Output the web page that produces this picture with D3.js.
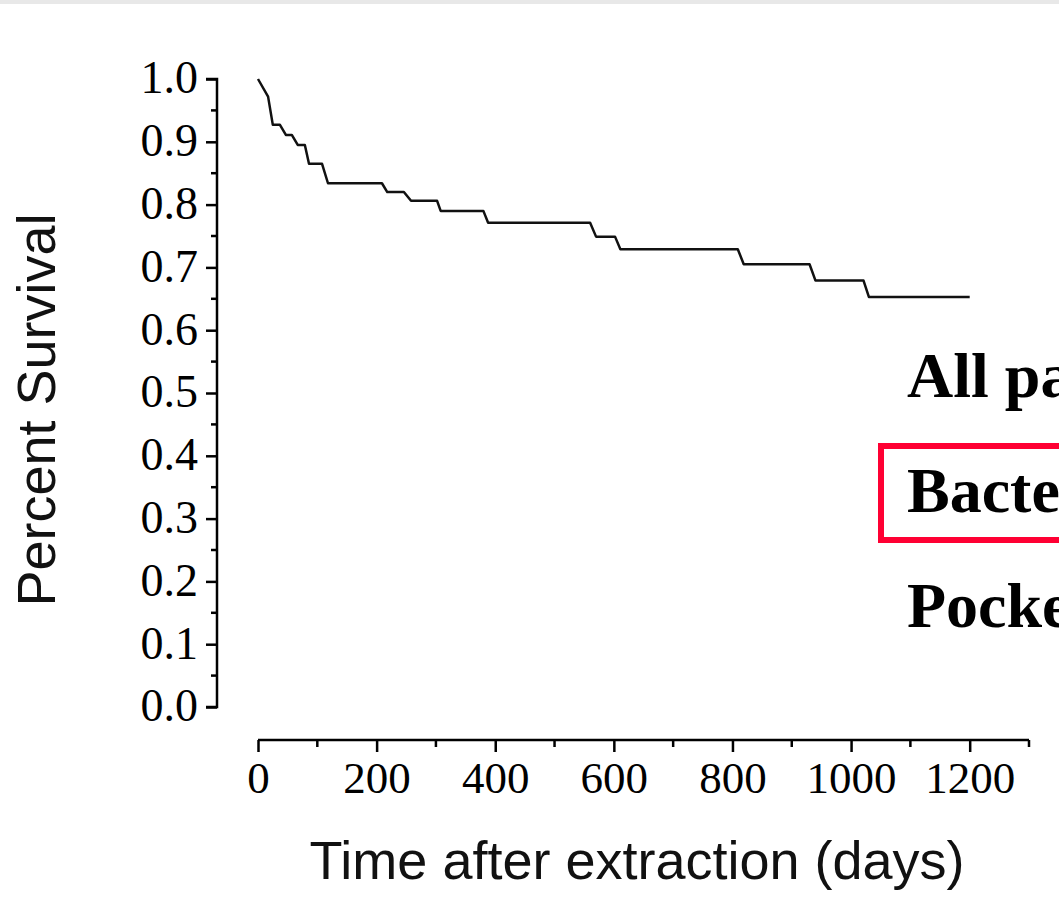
<!DOCTYPE html>
<html>
<head>
<meta charset="utf-8">
<script src="https://cdn.jsdelivr.net/npm/d3@7"></script>
<style>
  body { margin: 0; background: #fff; }
  svg { display: block; }
</style>
</head>
<body>
<script>
// survival curve corners (days, fraction surviving)
var days     = [0, 17, 25, 37, 47, 57, 67, 79, 86, 108, 118, 209, 218, 246, 258, 302, 308, 380, 388, 560, 570, 602, 611, 809, 819, 930, 940, 1021, 1030, 1200];
var survival = [1.000, 0.972, 0.927, 0.927, 0.911, 0.911, 0.895, 0.895, 0.865, 0.865, 0.834, 0.834, 0.820, 0.820, 0.806, 0.806, 0.790, 0.790, 0.771, 0.771, 0.749, 0.749, 0.729, 0.729, 0.705, 0.705, 0.679, 0.679, 0.653, 0.653];

var xTicks = [0, 200, 400, 600, 800, 1000, 1200];
var xMinor = [100, 300, 500, 700, 900, 1100, 1300];
var yTicks = [0, 0.1, 0.2, 0.3, 0.4, 0.5, 0.6, 0.7, 0.8, 0.9, 1.0];
var yMinor = [0.05, 0.15, 0.25, 0.35, 0.45, 0.55, 0.65, 0.75, 0.85, 0.95];

// the labels run off the right edge in the source figure
var groupLabels = ["All patients", "Bacteremia", "Pocket infection"];

var w = 1059;
var h = 900;

var svg = d3.select("body")
	.append("svg")
	.attr("width", w)
	.attr("height", h);

// thin grey band along the top
svg.append("rect")
	.attr("x", 0).attr("y", 0)
	.attr("width", w).attr("height", 4)
	.attr("fill", "#e8e8e8");

var x = d3.scaleLinear().domain([0, 1300]).range([258, 1029]);
var y = d3.scaleLinear().domain([0, 1]).range([707, 79]);

var serif = "'Liberation Serif', 'Times New Roman', serif";
var sans = "'Liberation Sans', Arial, sans-serif";

// Y AXIS

var yAxis = svg.append("g")
	.attr("transform", "translate(217,0)");

yAxis.call(d3.axisLeft(y).tickValues(yTicks).tickSize(11).tickPadding(8).tickFormat(d3.format(".1f")));

yAxis.selectAll(".minor").data(yMinor).enter()
	.append("line")
	.attr("class", "minor")
	.attr("x1", -6).attr("x2", 0)
	.attr("y1", function(d) { return y(d); })
	.attr("y2", function(d) { return y(d); });

yAxis.select(".domain").attr("d", "M-11," + y(1) + "H0V" + y(0) + "H-11");
yAxis.selectAll("line, path").attr("stroke", "#000").attr("stroke-width", 2.5);
yAxis.selectAll("text")
	.attr("font-family", serif)
	.attr("font-size", "46px")
	.attr("fill", "#000")
	.attr("dy", "0.3em");

// X AXIS

var xAxis = svg.append("g")
	.attr("transform", "translate(0,740)");

xAxis.call(d3.axisBottom(x).tickValues(xTicks).tickSize(12).tickPadding(9).tickFormat(d3.format("d")));

xAxis.selectAll(".minor").data(xMinor).enter()
	.append("line")
	.attr("class", "minor")
	.attr("y1", 0).attr("y2", 7)
	.attr("x1", function(d) { return x(d); })
	.attr("x2", function(d) { return x(d); });

xAxis.select(".domain").attr("d", "M" + x(0) + ",0H" + x(1300));
xAxis.selectAll("line, path").attr("stroke", "#000").attr("stroke-width", 2.5);
xAxis.selectAll("text")
	.attr("font-family", serif)
	.attr("font-size", "45px")
	.attr("fill", "#000");

// CURVE

var line = d3.line()
	.x(function(d, i) { return x(days[i]); })
	.y(function(d, i) { return y(survival[i]); });

svg.append("path")
	.datum(days)
	.attr("d", line)
	.attr("fill", "none")
	.attr("stroke", "#111")
	.attr("stroke-width", 2.5)
	.attr("stroke-linejoin", "round");

// AXIS TITLES

svg.append("text")
	.attr("x", 637)
	.attr("y", 879)
	.attr("text-anchor", "middle")
	.attr("font-family", sans)
	.attr("font-size", "54px")
	.attr("fill", "#111")
	.text("Time after extraction (days)");

svg.append("text")
	.attr("transform", "translate(55,410) rotate(-90)")
	.attr("text-anchor", "middle")
	.attr("font-family", sans)
	.attr("font-size", "54px")
	.attr("fill", "#111")
	.text("Percent Survival");

// GROUP LABELS

svg.selectAll(".group_label").data(groupLabels).enter()
	.append("text")
	.attr("class", "group_label")
	.attr("x", 907)
	.attr("y", function(d, i) { return 397 + i * 115; })
	.attr("font-family", serif)
	.attr("font-weight", "bold")
	.attr("font-size", "64px")
	.attr("fill", "#000")
	.text(function(d) { return d; });

svg.append("rect")
	.attr("x", 881)
	.attr("y", 446)
	.attr("width", 300)
	.attr("height", 94)
	.attr("fill", "none")
	.attr("stroke", "#ff0033")
	.attr("stroke-width", 6);
</script>
</body>
</html>
